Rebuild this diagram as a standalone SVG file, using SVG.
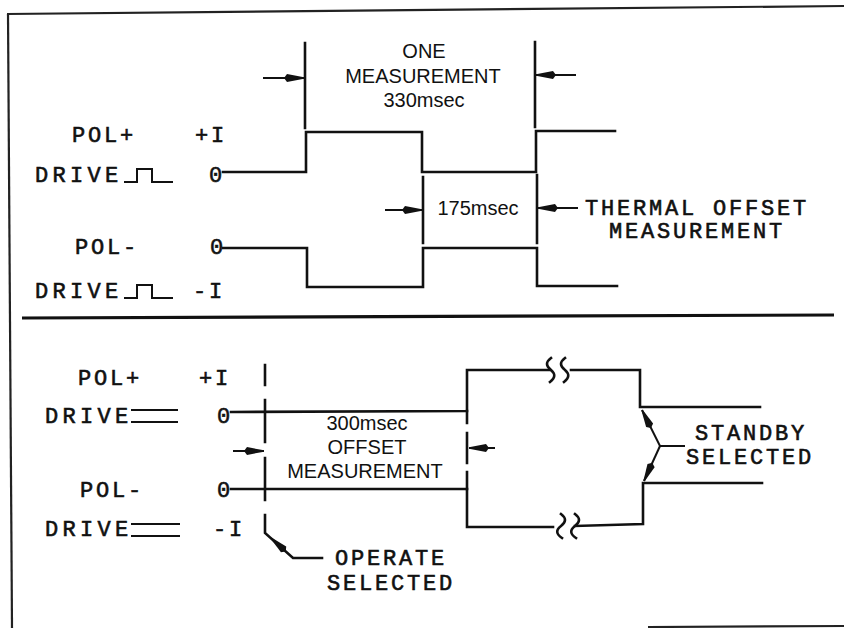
<svg xmlns="http://www.w3.org/2000/svg" width="844" height="628" viewBox="0 0 844 628">
<style>
.ln{fill:none;stroke:#111;stroke-width:2.6;stroke-linecap:square;stroke-linejoin:miter}
.thin{fill:none;stroke:#111;stroke-width:2}
.ar{fill:none;stroke:#111;stroke-width:2}
.mono{font-family:"Liberation Mono","DejaVu Sans Mono",monospace;font-size:22px;letter-spacing:2.8px;fill:#111;stroke:#111;stroke-width:0.6px}
.sp{letter-spacing:4.3px}
.sans{font-family:"Liberation Sans",Arial,sans-serif;font-size:20px;fill:#111;text-anchor:middle}
.frame{fill:none;stroke:#222;stroke-width:2.2}
</style>
<defs>
<marker id="ah" viewBox="0 0 20 9" refX="20" refY="4.5" markerWidth="20" markerHeight="9" orient="auto" markerUnits="userSpaceOnUse">
<path d="M0,4.5 L3,0.6 L20,3.8 L20,5.2 L3,8.4 Z" fill="#111"/>
</marker>
</defs>
<rect width="844" height="628" fill="#fff"/>

<g id="frame">
<path class="frame" d="M7,14 L844,6"/>
<path class="frame" d="M8,14 L12,628"/>
<path class="frame" d="M648,627 L844,626"/>
<path d="M22,318 L834,315" fill="none" stroke="#111" stroke-width="3.2"/>
</g>

<g id="top-labels">
<g id="t-polp"><text class="mono" x="72" y="142">POL+</text><text class="mono" x="195" y="142">+I</text></g>
<g id="t-drive1"><text class="mono sp" x="35" y="182">DRIVE</text>
<polyline class="thin" points="124,182 137,182 137,169 152,169 152,182 173,182"/>
<text class="mono" x="209" y="182">0</text></g>
<g id="t-poln"><text class="mono" x="75" y="254">POL-</text><text class="mono" x="210" y="254">0</text></g>
<g id="t-drive2"><text class="mono sp" x="35" y="298">DRIVE</text>
<polyline class="thin" points="124,298 137,298 137,285 152,285 152,298 173,298"/>
<text class="mono" x="193" y="298">-I</text></g>
<g id="t-one"><text class="sans" x="424" y="58">ONE</text><text class="sans" x="423" y="83">MEASUREMENT</text><text class="sans" x="424" y="107">330msec</text></g>
<g id="t-175"><text class="sans" x="478" y="215">175msec</text></g>
<g id="t-thermal"><text class="mono" x="585" y="215">THERMAL OFFSET</text><text class="mono" x="609" y="238">MEASUREMENT</text></g>
</g>

<g id="bottom-labels">
<g id="b-polp"><text class="mono" x="78" y="385">POL+</text><text class="mono" x="199" y="385">+I</text></g>
<g id="b-drive1"><text class="mono sp" x="45" y="423">DRIVE</text>
<path class="thin" d="M131,410 H178 M131,422 H178"/>
<text class="mono" x="217" y="423">0</text></g>
<g id="b-poln"><text class="mono" x="80" y="497">POL-</text><text class="mono" x="217" y="497">0</text></g>
<g id="b-drive2"><text class="mono sp" x="45" y="536">DRIVE</text>
<path class="thin" d="M131,524 H180 M131,536 H180"/>
<text class="mono" x="213" y="536">-I</text></g>
<g id="b-300"><text class="sans" x="367" y="430">300msec</text><text class="sans" x="367" y="454">OFFSET</text><text class="sans" x="365" y="478">MEASUREMENT</text></g>
<g id="b-operate"><text class="mono" x="335" y="565">OPERATE</text><text class="mono" x="327" y="590">SELECTED</text></g>
<g id="b-standby"><text class="mono" x="695" y="440">STANDBY</text><text class="mono" x="686" y="464">SELECTED</text></g>
</g>

<g id="connectors">
<polyline class="ln" points="223,172 306,172 306,132 422,132 422,172 536,172 536,131 615,131"/>
<polyline class="ln" points="223,248 307,248 307,287 423,287 423,248 537,248 537,286 617,286"/>
<path class="ln" d="M305,43 V128 M535,42 V127"/>
<path class="ar" d="M263,78 H304" marker-end="url(#ah)"/>
<path class="ar" d="M576,75 H536" marker-end="url(#ah)"/>
<path class="ln" d="M423,177 V243 M537,175 V243"/>
<path class="ar" d="M385,210 H422" marker-end="url(#ah)"/>
<path class="ar" d="M578,208 H538" marker-end="url(#ah)"/>

<polyline class="ln" points="231,412 467,411 467,370 550,370"/>
<polyline class="ln" points="571,370 640,370 640,407 760,407"/>
<path class="ln" d="M551,358 Q543,364 551,370 Q558,376 550,382 M565,358 Q557,364 565,370 Q572,376 564,382"/>
<polyline class="ln" points="231,489 467,489 467,527 553,527"/>
<polyline class="ln" points="575,526 643,524 643,483 762,483"/>
<path class="ln" d="M561,514 Q569,520 561,526 Q553,532 562,538 M575,514 Q583,520 575,526 Q567,532 576,538"/>
<path class="ln" d="M467,411 V423 M467,433 V463 M467,472 V489"/>
<path class="ar" d="M495,448 H469" marker-end="url(#ah)"/>
<path class="ln" d="M265,365 V385 M265,400 V442 M265,458 V500"/>
<path class="ar" d="M233,451 H264" marker-end="url(#ah)"/>
<polyline class="ln" points="265,515 265,533 293,558 322,558"/>
<path d="M293,558 L271,538" fill="none" stroke="#111" stroke-width="0.1" marker-end="url(#ah)"/>
<path class="ar" d="M660,446 H685"/>
<path class="ar" d="M660,446 L642,410" marker-end="url(#ah)"/>
<path class="ar" d="M660,446 L644,481" marker-end="url(#ah)"/>
</g>
</svg>
